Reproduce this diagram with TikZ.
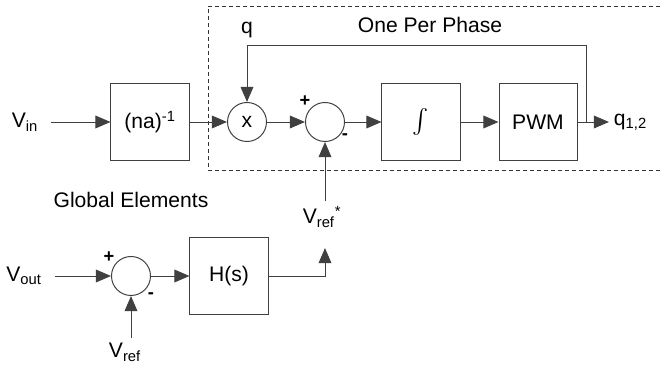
\documentclass[tikz,border=0pt]{standalone}
\usepackage{amsmath}
\usepackage{fontspec}
\setmainfont{Liberation Sans}
\usetikzlibrary{arrows.meta}
\begin{document}
\begin{tikzpicture} [x = 0.025cm, y = -0.025cm, font = \fontsize{15}{18}\selectfont,
	block/.style = {draw = black!75, line width = 0.7pt, minimum width = 1.95cm, minimum height = 1.9cm},
	junction/.style = {draw = black!75, line width = 0.7pt, circle, minimum size = 0.975cm, inner sep = 0pt},
	line/.style = {draw = black!75, line width = 0.7pt},
	arrow/.style = {line, -{Triangle[length = 0.38cm, width = 0.32cm]}},
	sign/.style = {font = \fontsize{13}{14}\selectfont\bfseries, inner sep = 0pt}]
	\useasboundingbox (0,0) rectangle (660,366);
	\draw [black!80, line width = 0.7pt, dash pattern = on 0.1cm off 0.075cm] (660,6) -- (208,6) -- (208,170) -- (660,170);
	\node (phase) at (430,25) {One Per Phase};
	\node (qlab) at (247,30) {q};
	\node (vin) at (25,122) {V\textsubscript{in}};
	\node [block] (gain) at (150,122) {(na)\textsuperscript{-1}};
	\node [junction] (mult) at (247,122) {x};
	\node [junction] (sum) at (325,122) {};
	\node [block] (integ) at (421,122) {\fontsize{18}{20}\selectfont$\int$};
	\node [block] (pwm) at (538,122) {PWM};
	\coordinate (tap) at (586,122);
	\coordinate (fb) at (586,45);
	\node [anchor = west] (qout) at (609,122) {q\textsubscript{1,2}};
	\node [sign] (splus) at (305,101) {+};
	\node [sign] (sminus) at (345,137) {-};
	\node (global) at (131,200) {Global Elements};
	\node (vrefs) at (322,217) {V\textsubscript{ref}\textsuperscript{*}};
	\coordinate (vrtip) at (325,248);
	\node (vout) at (24,276) {V\textsubscript{out}};
	\node [junction] (err) at (131,276) {};
	\node [block] (hs) at (229,276) {H(s)};
	\node [sign] (eplus) at (109,257) {+};
	\node [sign] (eminus) at (151,296) {-};
	\node (vref) at (125,352) {V\textsubscript{ref}};
	\draw [arrow, shorten < = 0.2cm] (vin) -- (gain);
	\draw [arrow] (gain) -- (mult);
	\draw [arrow] (mult) -- (sum);
	\draw [arrow] (sum) -- (integ);
	\draw [arrow] (integ) -- (pwm);
	\draw [line] (pwm) -- (tap);
	\draw [arrow] (tap) -- (qout);
	\draw [arrow] (tap) -- (fb) -| (mult);
	\draw [arrow] (vrefs.north -| sum) -- (sum);
	\draw [arrow, shorten < = 0.2cm] (vout) -- (err);
	\draw [arrow] (err) -- (hs);
	\draw [arrow] (hs) -| (vrtip);
	\draw [arrow] (vref.north -| err) -- (err);
\end{tikzpicture}
\end{document}
